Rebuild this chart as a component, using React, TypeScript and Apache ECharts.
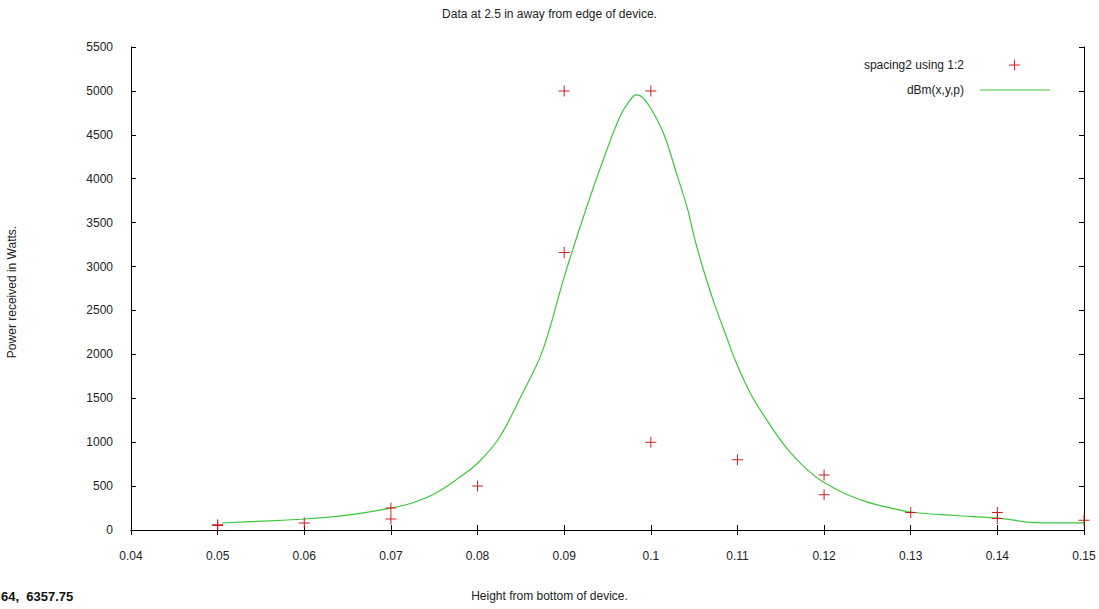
import React, { useEffect, useRef } from "react";
import * as echarts from "echarts";

const titleText = "Data at 2.5 in away from edge of device.";
const xAxisName = "Height from bottom of device.";
const yAxisName = "Power received in Watts.";
const cornerText = "64,  6357.75";
const legendNames = ["spacing2 using 1:2", "dBm(x,y,p)"];

const measuredX = [0.05, 0.05, 0.06, 0.07, 0.07, 0.08, 0.09, 0.09, 0.1, 0.1, 0.11, 0.12, 0.12, 0.13, 0.14, 0.14, 0.15];
const measuredY = [60, 50, 80, 250, 125, 500, 5000, 3160, 5000, 1000, 800, 625, 400, 200, 200, 130, 110];

const fitX = [0.0505, 0.055, 0.06, 0.065, 0.07, 0.0725, 0.075, 0.0775, 0.08, 0.0825, 0.085, 0.0875, 0.09, 0.0925, 0.095, 0.0965, 0.0975, 0.0983, 0.099, 0.1, 0.1015, 0.103, 0.1042, 0.1051, 0.1061, 0.1072, 0.1086, 0.1099, 0.1115, 0.1134, 0.1157, 0.118, 0.12, 0.1225, 0.125, 0.1275, 0.13, 0.135, 0.14, 0.1444, 0.15];
const fitY = [80, 100, 125, 170, 250, 310, 410, 570, 760, 1050, 1520, 2040, 2880, 3650, 4350, 4720, 4880, 4955, 4930, 4800, 4510, 4050, 3670, 3300, 2955, 2615, 2235, 1895, 1555, 1250, 930, 690, 540, 410, 318, 255, 205, 165, 136, 85, 80];

const xMin = 0.04, xMax = 0.15, xStep = 0.01;
const yMin = 0, yMax = 5500, yStep = 500;

const RED = "#cc2020";
const GREEN = "#3cc83c";
const FONT = "'Liberation Sans', Arial, sans-serif";

const plusPath = "path://M0,5H11V6H0Z M5,0H6V11H5Z";

export default function App() {
  const ref = useRef<HTMLDivElement>(null);
  useEffect(() => {
    if (!ref.current) return;
    const chart = echarts.init(ref.current, null, { renderer: "svg" });
    const fmtX = (v: number) => parseFloat(v.toFixed(2)).toString();
    const fmtY = (v: number) => String(Math.round(v));
    const tickCommon = { show: true, inside: true, length: 5, lineStyle: { color: "#000", width: 1 } };
    chart.setOption({
      animation: false,
      backgroundColor: "#fff",
      textStyle: { fontFamily: FONT },
      grid: { left: 131, right: 15, top: 47, bottom: 79, containLabel: false },
      xAxis: [
        {
          type: "value", min: xMin, max: xMax, interval: xStep,
          axisLine: { show: true, onZero: false, lineStyle: { color: "#000", width: 1 } },
          axisTick: tickCommon,
          splitLine: { show: false },
          axisLabel: { formatter: fmtX, color: "#222", fontSize: 12, fontFamily: FONT, margin: 20 },
        },
        {
          type: "value", position: "top", min: xMin, max: xMax, interval: xStep,
          axisLine: { show: true, lineStyle: { color: "#000", width: 1 } },
          axisTick: tickCommon, axisLabel: { show: false }, splitLine: { show: false },
        },
      ],
      yAxis: [
        {
          type: "value", min: yMin, max: yMax, interval: yStep,
          axisLine: { show: true, onZero: false, lineStyle: { color: "#000", width: 1 } },
          axisTick: tickCommon,
          splitLine: { show: false },
          axisLabel: { formatter: fmtY, color: "#222", fontSize: 12, fontFamily: FONT, margin: 18 },
        },
        {
          type: "value", position: "right", min: yMin, max: yMax, interval: yStep,
          axisLine: { show: true, lineStyle: { color: "#000", width: 1 } },
          axisTick: tickCommon, axisLabel: { show: false }, splitLine: { show: false },
        },
      ],
      series: [
        {
          name: legendNames[1],
          type: "line",
          data: fitX.map((x, i) => [x, fitY[i]]),
          symbol: "none",
          smooth: 0.35,
          lineStyle: { color: GREEN, width: 1.2 },
          z: 2,
        },
        {
          name: legendNames[0],
          type: "scatter",
          data: measuredX.map((x, i) => [x, measuredY[i]]),
          symbol: plusPath,
          symbolSize: 11,
          itemStyle: { color: RED, opacity: 1 },
          z: 3,
        },
      ],
      graphic: [
        { type: "text", left: "center", top: 8, style: { text: titleText, font: `12px ${FONT}`, fill: "#222" } },
        { type: "text", left: "center", top: 590, style: { text: xAxisName, font: `12px ${FONT}`, fill: "#222" } },
        {
          type: "text", x: 12, y: 292, rotation: Math.PI / 2,
          style: { text: yAxisName, font: `12px ${FONT}`, fill: "#222", align: "center", verticalAlign: "middle" },
        },
        { type: "text", x: 1, y: 590, style: { text: cornerText, font: `bold 13px ${FONT}`, fill: "#111" } },
        { type: "text", x: 964, y: 65, style: { text: legendNames[0], font: `12px ${FONT}`, fill: "#222", align: "right", verticalAlign: "middle" } },
        { type: "text", x: 964, y: 90, style: { text: legendNames[1], font: `12px ${FONT}`, fill: "#222", align: "right", verticalAlign: "middle" } },
        { type: "rect", shape: { x: 1009, y: 64.5, width: 11, height: 1 }, style: { fill: RED } },
        { type: "rect", shape: { x: 1014, y: 59.5, width: 1, height: 11 }, style: { fill: RED } },
        { type: "line", shape: { x1: 980, y1: 90, x2: 1050, y2: 90 }, style: { stroke: GREEN, lineWidth: 1.2 } },
      ],
    });
    return () => chart.dispose();
  }, []);
  return <div ref={ref} style={{ width: 1099, height: 609, position: "absolute", left: 0, top: 0 }} />;
}
